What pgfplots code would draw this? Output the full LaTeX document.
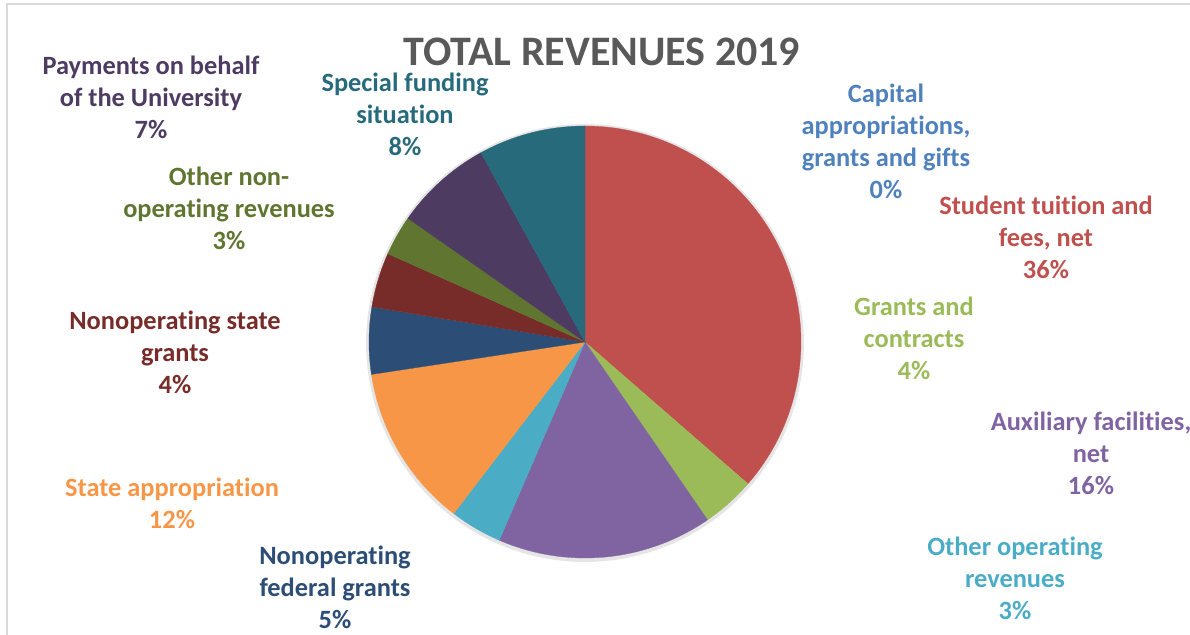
\documentclass[border=0pt]{standalone}
\usepackage{pgfplots}
\pgfplotsset{compat=1.18}
\usepackage{fontspec}
\setmainfont[Ligatures=NoCommon]{Carlito}

\definecolor{cred}{HTML}{C0504D}
\definecolor{cgreen}{HTML}{9BBB59}
\definecolor{cpurple}{HTML}{8064A2}
\definecolor{caqua}{HTML}{4BACC6}
\definecolor{corange}{HTML}{F79646}
\definecolor{cdblue}{HTML}{2C4D75}
\definecolor{cdred}{HTML}{772C2A}
\definecolor{colive}{HTML}{5F7530}
\definecolor{cdpurple}{HTML}{4D3B62}
\definecolor{cteal}{HTML}{276A7C}
\definecolor{cblue}{HTML}{4F81BD}
\definecolor{ctitle}{HTML}{595959}

\tikzset{lab/.style={font=\bfseries\fontsize{26.4bp}{32bp}\selectfont,
    align=center, inner sep=0pt}}

% pie centre and radius, in picture pixels (y upwards)
\def\cx{585}\def\cy{293}\def\rr{216}

% #1 cumulative share before the slice (%), #2 share (%), #3 colour
\newcommand\slice[3]{%
  \pgfmathsetmacro\sa{#1*3.6}%
  \pgfmathsetmacro\sb{(#1+#2)*3.6}%
  \edef\doslice{\noexpand\addplot[fill=#3, draw=#3, line width=0.3pt,
      domain=\sa:\sb, samples=80]
    ({\cx+\rr*sin(x)},{\cy+\rr*cos(x)}) -- (axis cs:\cx,\cy) -- cycle;}%
  \doslice}

\begin{document}
\begin{tikzpicture}
\begin{axis}[
  width=1190bp, height=635bp, scale only axis,
  xmin=0, xmax=1190, ymin=0, ymax=635,
  axis lines=none, clip=false
]
% frame edges
\addplot[draw=black!15, line width=1.2pt] coordinates {(7,0) (7,631) (1190,631)};

% soft shadow
\addplot[draw=black!10, line width=4pt, domain=0:360, samples=120]
  ({\cx+(\rr+1)*sin(x)},{\cy-1+(\rr+1)*cos(x)});

\slice{0}{36.4}{cred}      % Student tuition and fees, net
\slice{36.4}{4.0}{cgreen}  % Grants and contracts
\slice{40.4}{16.1}{cpurple}% Auxiliary facilities, net
\slice{56.5}{3.9}{caqua}   % Other operating revenues
\slice{60.4}{12.2}{corange}% State appropriation
\slice{72.6}{5.0}{cdblue}  % Nonoperating federal grants
\slice{77.6}{4.1}{cdred}   % Nonoperating state grants
\slice{81.7}{3.0}{colive}  % Other non-operating revenues
\slice{84.7}{7.3}{cdpurple}% Payments on behalf of the University
\slice{92.0}{8.0}{cteal}   % Special funding situation

\node[text=ctitle, inner sep=0pt, font=\bfseries\fontsize{42bp}{46bp}\selectfont] at (axis cs:602,583) {TOTAL REVENUES 2019};

\node[lab, text=cdpurple] at (axis cs:151,538) {Payments on behalf\\of the University\\7\%};
\node[lab, text=cteal] at (axis cs:405,521) {Special funding\\situation\\8\%};
\node[lab, text=cblue] at (axis cs:886,494) {Capital\\appropriations,\\grants and gifts\\0\%};
\node[lab, text=cred] at (axis cs:1046,398) {Student tuition and\\fees, net\\36\%};
\node[lab, text=cgreen] at (axis cs:914,297) {Grants and\\contracts\\4\%};
\node[lab, text=cpurple] at (axis cs:1091,182) {Auxiliary facilities,\\net\\16\%};
\node[lab, text=caqua] at (axis cs:1015,57) {Other operating\\revenues\\3\%};
\node[lab, text=cdblue] at (axis cs:335,48) {Nonoperating\\federal grants\\5\%};
\node[lab, text=corange] at (axis cs:172,132) {State appropriation\\12\%};
\node[lab, text=cdred] at (axis cs:175,283) {Nonoperating state\\grants\\4\%};
\node[lab, text=colive] at (axis cs:229,427) {Other non-\\operating revenues\\3\%};
\end{axis}
\pgfresetboundingbox
\useasboundingbox (0,0) rectangle (1190bp,635bp);
\end{tikzpicture}
\end{document}
